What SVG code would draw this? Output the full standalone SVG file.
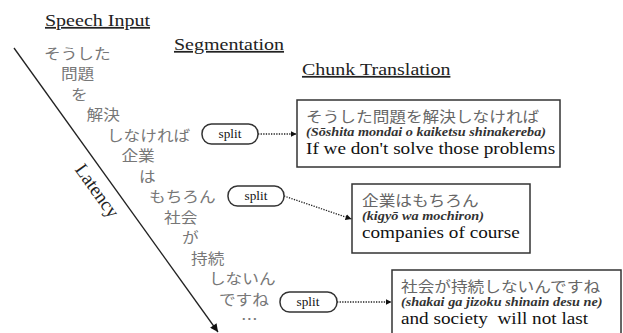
<svg xmlns="http://www.w3.org/2000/svg" width="623" height="333" viewBox="0 0 623 333">
<defs>
<marker id="ah" viewBox="0 0 10 10" refX="10" refY="5" markerWidth="6" markerHeight="6" markerUnits="userSpaceOnUse" orient="auto"><path d="M0,0 L10,5 L0,10 z" fill="#111"/></marker>
<marker id="ahl" viewBox="0 0 10 10" refX="10" refY="5" markerWidth="9" markerHeight="8" markerUnits="userSpaceOnUse" orient="auto"><path d="M0,0 L10,5 L0,10 z" fill="#111"/></marker>
</defs>
<style>
.sx{transform:scale(1.15,1)}
.ser{font-family:"Liberation Serif","Times New Roman",serif}
.cjk{font-family:"Noto Sans CJK JP",sans-serif}
.hd{font-size:17.4px;text-decoration:underline;fill:#222}
.jp{font-size:14.5px;fill:#777}
.bj{font-size:14.5px;fill:#666}
.it{font-size:12.4px;font-style:italic;font-weight:bold;fill:#333}
.en{font-size:16.7px;fill:#111}
.sp{font-size:11.5px;fill:#111;text-anchor:middle}
.lat{font-size:19px;fill:#222;text-anchor:middle}
.pill{fill:#fff;stroke:#333;stroke-width:1.5}
.box{fill:#fff;stroke:#333;stroke-width:1.5}
.dot{fill:none;stroke:#222;stroke-width:1.3;stroke-dasharray:1.3 1.3}
.axis{fill:none;stroke:#222;stroke-width:1.3}
</style>

<g id="headings">
<text class="ser hd sx" x="39.13" y="26">Speech Input</text>
<text class="ser hd sx" x="151.3" y="50">Segmentation</text>
<text class="ser hd sx" x="262.6" y="75">Chunk Translation</text>
</g>

<g id="speech-input">
<text class="cjk jp sx" x="38.3" y="59">そうした</text>
<text class="cjk jp sx" x="53.0" y="79.5">問題</text>
<text class="cjk jp sx" x="61.7" y="100">を</text>
<text class="cjk jp sx" x="75.2" y="120.5">解決</text>
<text class="cjk jp sx" x="93.0" y="141">しなければ</text>
<text class="cjk jp sx" x="105.6" y="161.5">企業</text>
<text class="cjk jp sx" x="120.9" y="182">は</text>
<text class="cjk jp sx" x="129.6" y="202.5">もちろん</text>
<text class="cjk jp sx" x="142.6" y="223">社会</text>
<text class="cjk jp sx" x="158.3" y="243.5">が</text>
<text class="cjk jp sx" x="166.1" y="264">持続</text>
<text class="cjk jp sx" x="181.7" y="284.5">しないん</text>
<text class="cjk jp sx" x="190.4" y="305">ですね</text>
<text class="cjk jp sx" x="209.6" y="325.5">…</text>
</g>

<g id="connectors">
<line class="axis" x1="14" y1="48" x2="218" y2="332" marker-end="url(#ahl)"/>
<line class="dot" x1="258" y1="134" x2="296.5" y2="134" marker-end="url(#ah)"/>
<line class="dot" x1="284" y1="196" x2="351.5" y2="219" marker-end="url(#ah)"/>
<line class="dot" x1="337" y1="302" x2="391.5" y2="302" marker-end="url(#ah)"/>
</g>

<g id="latency-label">
<text class="ser lat" transform="translate(14,48) rotate(54.3)" x="164.5" y="22">Latency</text>
</g>

<g id="split-1">
<rect class="pill" x="202" y="124" width="56" height="20" rx="9.5"/>
<text class="ser sp sx" x="200" y="138">split</text>
</g>
<g id="split-2">
<rect class="pill" x="228" y="186" width="56" height="20" rx="9.5"/>
<text class="ser sp sx" x="222.61" y="200">split</text>
</g>
<g id="split-3">
<rect class="pill" x="280" y="292" width="57" height="20" rx="9.5"/>
<text class="ser sp sx" x="267.83" y="306">split</text>
</g>

<g id="chunk-1">
<rect class="box" x="297" y="100" width="263" height="67"/>
<text class="cjk bj sx" x="266.09" y="122">そうした問題を解決しなければ</text>
<text class="ser it sx" x="266.09" y="136.5">(Sōshita mondai o kaiketsu shinakereba)</text>
<text class="ser en sx" x="266.09" y="154">If we don't solve those problems</text>
</g>

<g id="chunk-2">
<rect class="box" x="352" y="184" width="178" height="69"/>
<text class="cjk bj sx" x="314.78" y="206">企業はもちろん</text>
<text class="ser it sx" x="314.78" y="220.5">(kigyō wa mochiron)</text>
<text class="ser en sx" x="314.78" y="238">companies of course</text>
</g>

<g id="chunk-3">
<rect class="box" x="392" y="270" width="229" height="80"/>
<text class="cjk bj sx" x="348.7" y="292">社会が持続しないんですね</text>
<text class="ser it sx" x="348.7" y="306.5">(shakai ga jizoku shinain desu ne)</text>
<text class="ser en sx" x="348.7" y="324" xml:space="preserve">and society  will not last</text>
</g>
</svg>
